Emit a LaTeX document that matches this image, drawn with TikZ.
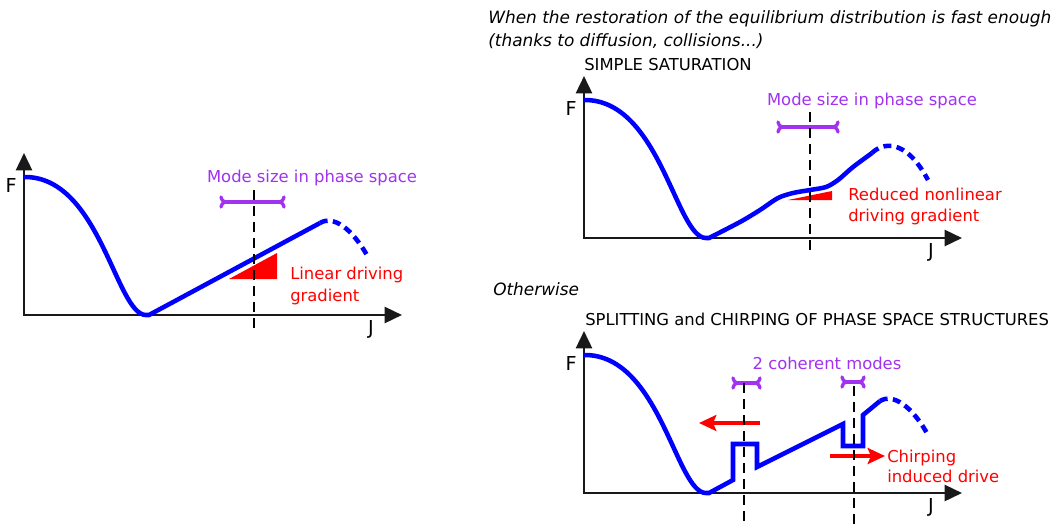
\documentclass[tikz,border=0pt]{standalone}
\usepackage{fontspec}
\setmainfont{DejaVu Sans}
\usetikzlibrary{arrows.meta}
\definecolor{modepurple}{RGB}{160,50,240}
\newcommand{\modebar}[4]{%
  \draw[modeline] (#1,#3) coordinate (#4a) -- (#2,#3) coordinate (#4b);
  \draw[modeline] (#1-5,#3-5) .. controls (#1-4,#3-1) and (#1-2,#3) .. (#4a)
                   .. controls (#1-2,#3) and (#1-4,#3+1) .. (#1-5,#3+5);
  \draw[modeline] (#2+5,#3-5) .. controls (#2+4,#3-1) and (#2+2,#3) .. (#4b)
                   .. controls (#2+2,#3) and (#2+4,#3+1) .. (#2+5,#3+5);
}
\newcommand{\axesFJ}[1]{%
  \coordinate (o#1) at (24,315);
  \coordinate (yt#1) at (24,153);
  \coordinate (xt#1) at (402,315);
  \draw[axis] (yt#1) -- (o#1) -- (xt#1);
  \node[axlbl, anchor=base east] (F#1) at (17,192) {F};
  \node[axlbl, anchor=base] (J#1) at (371,334) {J};
}
\begin{document}
\begin{tikzpicture}[x=0.75pt,y=-0.75pt,
  axis/.style={line width=1.9pt, draw=black!90, {Triangle[length=13pt,width=12pt]}-{Triangle[length=13pt,width=12pt]}},
  fcurve/.style={draw=blue, line width=3.4pt},
  fdash/.style={fcurve, dash pattern=on 6pt off 4pt},
  modecut/.style={draw=black, line width=1.5pt, dash pattern=on 7.5pt off 4.5pt},
  modeline/.style={draw=modepurple, line width=2.5pt, line cap=round},
  drive/.style={fill=red},
  redarrow/.style={draw=red, line width=2.6pt, -{Stealth[length=13pt,width=12pt,inset=2.5pt]}},
  lbl/.style={inner sep=0pt, font=\fontsize{12.3pt}{15pt}\selectfont},
  axlbl/.style={inner sep=0pt, font=\fontsize{14.4pt}{17pt}\selectfont},
  itlbl/.style={inner sep=0pt, anchor=base west, font=\fontsize{12.7pt}{15pt}\selectfont\itshape},
  redlbl/.style={lbl, text=red, anchor=base west},
  purplbl/.style={lbl, text=modepurple, anchor=base},
  toplbl/.style={lbl, anchor=base west},
]
\useasboundingbox (0,0) rectangle (1059,525);

% ---------- Panel 1 ----------
\begin{scope}
  \axesFJ{A}
  \fill[drive] (229,279) -- (277,253) -- (277,279) -- cycle;
  \draw[fcurve] (24,177) .. controls (100,176) and (116,315) .. (146,315) -- (149,315) -- (320,223) coordinate (eA);
  \draw[fdash] (eA) .. controls (333,215) and (352,228) .. (368,257);
  \modebar{226}{279}{202}{mA}
  \coordinate (cAt) at (254,190); \coordinate (cAb) at (254,330);
  \draw[modecut] (cAt) -- (cAb);
  \node[purplbl] (modeA) at (312,182) {Mode size in phase space};
  \node[redlbl] (linA1) at (290,279) {Linear driving};
  \node[redlbl] (linA2) at (290,301) {gradient};
\end{scope}

% ---------- Panel 2 ----------
\begin{scope}[shift={(560,-77)}]
  \axesFJ{B}
  \fill[drive] (228,277) -- (272,268) -- (272,277) -- cycle;
  \draw[fcurve] (24,177) .. controls (100,176) and (116,315) .. (146,315) -- plot[smooth, tension=0.5] coordinates {(149,315) (180,299) (200,287) (218,275) (233,270) (250,267) (266,264) (278,257) (293,244) (312,230)};
  \coordinate (eB) at (312,230);
  \draw[fdash] (eB) .. controls (322,220) and (345,214) .. (368,257);
  \modebar{223}{273}{204}{mB}
  \coordinate (cBt) at (250,189); \coordinate (cBb) at (250,327);
  \draw[modecut] (cBt) -- (cBb);
  \node[purplbl] (modeB) at (312,182) {Mode size in phase space};
  \node[redlbl] (redB1) at (288,277) {Reduced nonlinear};
  \node[redlbl] (redB2) at (288,298) {driving gradient};
\end{scope}

% ---------- Panel 3 ----------
\begin{scope}[shift={(560,178)}]
  \axesFJ{C}
  \draw[fcurve] (24,177) .. controls (100,176) and (116,315) .. (146,315) -- (149,315) -- (173,302) -- (173,266) -- (197,266) -- (197,289) -- (283,246) -- (283,268) -- (303,268) -- (303,237) -- (320,223) coordinate (eC);
  \draw[fdash] (eC) .. controls (333,215) and (352,228) .. (368,257);
  \coordinate (lArS) at (200,245); \coordinate (lArE) at (139,245);
  \coordinate (rArS) at (270,278); \coordinate (rArE) at (325,278);
  \draw[redarrow] (lArS) -- (lArE);
  \draw[redarrow] (rArS) -- (rArE);
  \modebar{178}{195}{205}{mC}
  \modebar{287}{299}{204}{mD}
  \coordinate (cCt) at (184,205); \coordinate (cCb) at (184,347);
  \coordinate (cDt) at (294,208); \coordinate (cDb) at (294,347);
  \draw[modecut] (cCt) -- (cCb);
  \draw[modecut] (cDt) -- (cDb);
  \node[purplbl] (modeC) at (267,191) {2 coherent modes};
  \node[redlbl] (chirp1) at (327,284) {Chirping};
  \node[redlbl] (chirp2) at (327,304) {induced drive};
\end{scope}

% ---------- Titles ----------
\node[itlbl] (when1) at (488,23) {When the restoration of the equilibrium distribution is fast enough};
\node[itlbl] (when2) at (488,46) {(thanks to diffusion, collisions...)};
\node[toplbl] (simple) at (584,70) {SIMPLE SATURATION};
\node[itlbl] (other) at (493,295) {Otherwise};
\node[toplbl] (split) at (585,325) {SPLITTING and CHIRPING OF PHASE SPACE STRUCTURES};
\end{tikzpicture}
\end{document}
